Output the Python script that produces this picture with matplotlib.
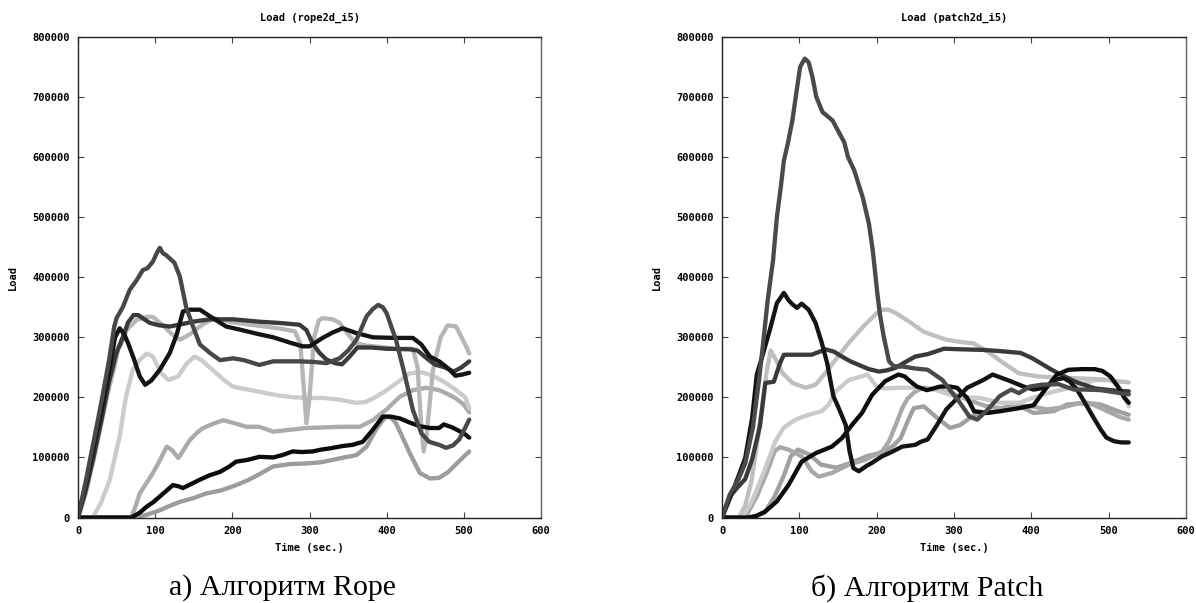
import matplotlib
matplotlib.use("Agg")
import matplotlib.pyplot as plt

# ---------------- data: Rope (left) ----------------
rope_titles = "Load (rope2d_i5)"
patch_titles = "Load (patch2d_i5)"
x_ticks = [0, 100, 200, 300, 400, 500, 600]
y_ticks = [0, 100000, 200000, 300000, 400000, 500000, 600000, 700000, 800000]

rope_a_t = [0, 10, 20, 30, 40, 48, 54, 60, 65, 73, 80, 87, 95, 106, 119, 128, 136, 145, 158, 171, 192, 209, 235, 253, 275, 291, 300, 317, 330, 343, 361, 382, 410, 434, 445, 456, 468, 480, 489, 498, 507]
rope_a_v = [0, 55000, 115000, 175000, 240000, 300000, 315000, 305000, 290000, 262000, 235000, 221000, 228000, 246000, 274000, 305000, 343000, 346000, 346000, 335000, 318000, 313000, 305000, 300000, 291000, 285000, 285000, 299000, 308000, 315000, 307000, 300000, 299000, 299000, 288000, 268000, 260000, 248000, 236000, 238000, 241000]

rope_b_t = [0, 10, 20, 30, 40, 47, 50, 58, 67, 76, 84, 90, 97, 102, 106, 110, 114, 120, 125, 132, 140, 149, 158, 171, 184, 201, 215, 235, 253, 270, 287, 305, 322, 339, 350, 361, 374, 382, 389, 395, 400, 412, 423, 434, 445, 455, 468, 477, 486, 494, 500, 507]
rope_b_v = [0, 60000, 125000, 190000, 260000, 318000, 332000, 350000, 379000, 395000, 412000, 415000, 426000, 440000, 449000, 440000, 437000, 430000, 424000, 401000, 351000, 318000, 288000, 274000, 262000, 265000, 262000, 254000, 260000, 260000, 260000, 259000, 257000, 265000, 278000, 296000, 335000, 347000, 354000, 350000, 340000, 296000, 240000, 179000, 140000, 126000, 121000, 116000, 120000, 130000, 145000, 163000]

rope_c_t = [0, 10, 20, 30, 40, 50, 58, 65, 72, 78, 86, 93, 105, 119, 135, 149, 171, 201, 235, 260, 287, 296, 304, 313, 322, 333, 342, 352, 362, 380, 400, 430, 440, 452, 462, 475, 487, 497, 507]
rope_c_v = [0, 45000, 100000, 160000, 225000, 275000, 300000, 325000, 337000, 337000, 330000, 324000, 320000, 318000, 322000, 326000, 330000, 330000, 326000, 324000, 321000, 312000, 290000, 274000, 263000, 257000, 255000, 268000, 283000, 283000, 281000, 280000, 278000, 265000, 255000, 250000, 243000, 250000, 260000]

rope_d_t = [0, 10, 20, 30, 40, 47, 52, 56, 63, 76, 89, 97, 110, 122, 132, 145, 160, 176, 200, 230, 260, 281, 288, 293, 296, 300, 306, 312, 317, 330, 339, 350, 360, 375, 391, 410, 434, 440, 445, 448, 452, 460, 470, 479, 490, 497, 503, 507]
rope_d_v = [0, 40000, 95000, 155000, 215000, 250000, 280000, 288000, 312000, 329000, 334000, 334000, 320000, 305000, 296000, 305000, 320000, 332000, 325000, 320000, 315000, 310000, 290000, 210000, 157000, 200000, 300000, 328000, 332000, 330000, 324000, 305000, 290000, 286000, 284000, 281000, 281000, 250000, 150000, 110000, 140000, 246000, 300000, 320000, 318000, 300000, 285000, 273000]

rope_e_t = [0, 12, 19, 30, 41, 54, 62, 71, 80, 89, 97, 108, 117, 130, 140, 151, 160, 175, 190, 201, 220, 240, 260, 280, 300, 318, 340, 360, 372, 385, 400, 415, 430, 445, 460, 474, 488, 502, 507]
rope_e_v = [0, 0, 0, 25000, 62000, 135000, 200000, 246000, 262000, 273000, 268000, 240000, 229000, 235000, 255000, 268000, 262000, 245000, 228000, 218000, 213000, 208000, 203000, 200000, 199000, 199000, 196000, 191000, 192000, 200000, 212000, 226000, 240000, 242000, 236000, 226000, 214000, 200000, 182000]

rope_f_t = [0, 69, 75, 80, 90, 97, 106, 115, 122, 130, 138, 145, 155, 162, 175, 188, 200, 218, 235, 253, 275, 296, 320, 339, 365, 382, 400, 417, 434, 451, 468, 480, 490, 500, 507]
rope_f_v = [0, 0, 20000, 40000, 60000, 74000, 95000, 118000, 112000, 99000, 115000, 129000, 142000, 149000, 156000, 162000, 158000, 151000, 151000, 143000, 146000, 149000, 150000, 151000, 151000, 162000, 180000, 201000, 212000, 216000, 212000, 205000, 198000, 188000, 175000]

rope_g_t = [0, 75, 90, 106, 120, 132, 149, 166, 185, 201, 220, 235, 253, 275, 296, 315, 330, 345, 361, 374, 386, 395, 400, 406, 412, 420, 430, 443, 456, 468, 480, 494, 507]
rope_g_v = [0, 0, 5000, 12000, 20000, 26000, 32000, 40000, 45000, 52000, 62000, 72000, 85000, 89000, 90000, 92000, 96000, 100000, 104000, 118000, 146000, 162000, 168000, 166000, 157000, 135000, 107000, 74000, 65000, 66000, 76000, 94000, 110000]

rope_h_t = [0, 69, 80, 89, 98, 106, 115, 123, 130, 136, 147, 158, 170, 184, 195, 205, 220, 235, 253, 265, 278, 290, 304, 315, 326, 343, 356, 369, 382, 395, 405, 417, 430, 443, 456, 468, 474, 485, 494, 500, 507]
rope_h_v = [0, 0, 8000, 18000, 26000, 35000, 45000, 54000, 52000, 49000, 56000, 63000, 70000, 76000, 84000, 93000, 96000, 101000, 100000, 104000, 110000, 109000, 110000, 113000, 115000, 119000, 121000, 126000, 146000, 168000, 168000, 165000, 158000, 152000, 149000, 149000, 155000, 150000, 144000, 140000, 133000]

# ---------------- data: Patch (right) ----------------
patch_a_t = [0, 10, 20, 30, 40, 48, 54, 59, 66, 71, 76, 80, 85, 91, 96, 101, 107, 112, 117, 122, 130, 143, 150, 158, 163, 171, 182, 190, 195, 201, 204, 209, 216, 222, 236, 250, 266, 285, 295, 305, 320, 330, 344, 359, 374, 384, 398, 413, 435, 455, 470, 490, 510, 526]
patch_a_v = [0, 38000, 60000, 90000, 150000, 230000, 300000, 361000, 428000, 500000, 550000, 594000, 622000, 661000, 706000, 750000, 764000, 758000, 733000, 700000, 675000, 661000, 644000, 625000, 600000, 578000, 533000, 489000, 444000, 372000, 340000, 302000, 260000, 252000, 251000, 248000, 246000, 229000, 212000, 196000, 168000, 163000, 180000, 202000, 213000, 207000, 218000, 221000, 222000, 213000, 213000, 212000, 208000, 205000]

patch_b_t = [0, 10, 20, 30, 39, 49, 56, 67, 75, 80, 95, 116, 134, 145, 155, 166, 177, 190, 203, 213, 224, 236, 250, 266, 287, 310, 338, 360, 386, 400, 412, 425, 438, 457, 482, 510, 526]
patch_b_v = [0, 35000, 50000, 64000, 97000, 152000, 224000, 226000, 257000, 271000, 271000, 271000, 280000, 276000, 268000, 260000, 254000, 247000, 243000, 245000, 249000, 258000, 268000, 272000, 281000, 280000, 279000, 277000, 274000, 266000, 257000, 247000, 238000, 226000, 215000, 211000, 210000]

patch_c_t = [0, 8, 17, 30, 39, 45, 52, 62, 71, 80, 86, 91, 97, 103, 112, 121, 129, 136, 144, 150, 160, 165, 170, 177, 187, 194, 207, 216, 233, 250, 257, 266, 278, 290, 300, 317, 338, 350, 373, 390, 403, 416, 433, 442, 450, 459, 467, 481, 490, 497, 507, 516, 526]
patch_c_v = [0, 25000, 54000, 99000, 166000, 238000, 268000, 313000, 357000, 374000, 362000, 355000, 349000, 356000, 346000, 324000, 291000, 257000, 202000, 185000, 154000, 110000, 82000, 77000, 86000, 91000, 102000, 107000, 118000, 121000, 126000, 130000, 154000, 180000, 193000, 216000, 229000, 238000, 227000, 218000, 213000, 216000, 230000, 232000, 226000, 213000, 196000, 165000, 146000, 133000, 127000, 125000, 125000]

patch_d_t = [0, 34, 45, 56, 71, 86, 103, 121, 142, 155, 168, 181, 194, 211, 228, 236, 245, 252, 265, 282, 295, 304, 317, 326, 343, 360, 384, 403, 416, 433, 448, 465, 482, 492, 502, 512, 520, 526]
patch_d_v = [0, 0, 3000, 10000, 27000, 54000, 93000, 107000, 118000, 132000, 154000, 174000, 204000, 227000, 238000, 235000, 225000, 218000, 212000, 218000, 218000, 216000, 199000, 177000, 174000, 177000, 182000, 187000, 210000, 238000, 246000, 247000, 247000, 244000, 235000, 218000, 200000, 191000]

patch_e_t = [0, 22, 30, 38, 45, 52, 58, 63, 70, 78, 91, 108, 121, 134, 147, 164, 185, 200, 207, 215, 224, 241, 261, 290, 310, 325, 344, 364, 384, 408, 430, 457, 490, 510, 526]
patch_e_v = [0, 0, 20000, 60000, 120000, 185000, 245000, 278000, 262000, 241000, 224000, 216000, 221000, 241000, 263000, 291000, 321000, 340000, 346000, 346000, 341000, 327000, 309000, 296000, 292000, 290000, 276000, 257000, 240000, 235000, 233000, 232000, 230000, 227000, 225000]

patch_f_t = [0, 25, 35, 43, 56, 69, 80, 95, 112, 129, 138, 147, 164, 181, 188, 194, 200, 210, 230, 250, 275, 300, 320, 334, 359, 384, 408, 430, 457, 482, 502, 510, 517, 526]
patch_f_v = [0, 0, 18000, 40000, 82000, 127000, 150000, 163000, 171000, 177000, 188000, 210000, 229000, 235000, 238000, 228000, 218000, 215000, 216000, 216000, 213000, 202000, 200000, 199000, 191000, 191000, 202000, 210000, 218000, 229000, 229000, 222000, 210000, 185000]

patch_g_t = [0, 30, 45, 58, 68, 75, 86, 103, 116, 125, 142, 164, 185, 207, 216, 225, 233, 240, 250, 261, 280, 300, 320, 340, 360, 380, 400, 420, 440, 460, 480, 500, 515, 526]
patch_g_v = [0, 0, 35000, 75000, 110000, 117000, 113000, 102000, 77000, 68000, 74000, 88000, 96000, 110000, 127000, 155000, 182000, 198000, 210000, 216000, 212000, 205000, 195000, 186000, 182000, 187000, 185000, 180000, 183000, 190000, 188000, 176000, 167000, 163000]

patch_h_t = [0, 40, 55, 68, 80, 89, 98, 113, 128, 148, 167, 187, 207, 221, 231, 240, 248, 261, 278, 295, 308, 326, 355, 381, 403, 429, 446, 472, 490, 512, 526]
patch_h_v = [0, 0, 8000, 35000, 70000, 102000, 113000, 105000, 88000, 83000, 91000, 102000, 108000, 119000, 132000, 160000, 182000, 185000, 166000, 149000, 154000, 171000, 177000, 188000, 174000, 177000, 188000, 191000, 188000, 177000, 171000]

rope_series = [
    (rope_g_t, rope_g_v, "#9c9c9c"),
    (rope_f_t, rope_f_v, "#ababab"),
    (rope_e_t, rope_e_v, "#cbcbcb"),
    (rope_d_t, rope_d_v, "#b6b6b6"),
    (rope_h_t, rope_h_v, "#0c0c0c"),
    (rope_c_t, rope_c_v, "#3a3a3a"),
    (rope_a_t, rope_a_v, "#141414"),
    (rope_b_t, rope_b_v, "#484848"),
]
patch_series = [
    (patch_h_t, patch_h_v, "#a0a0a0"),
    (patch_g_t, patch_g_v, "#a8a8a8"),
    (patch_f_t, patch_f_v, "#cacaca"),
    (patch_e_t, patch_e_v, "#bfbfbf"),
    (patch_b_t, patch_b_v, "#3a3a3a"),
    (patch_d_t, patch_d_v, "#0c0c0c"),
    (patch_c_t, patch_c_v, "#141414"),
    (patch_a_t, patch_a_v, "#4a4a4a"),
]

MONO = dict(family="DejaVu Sans Mono", weight="bold", size=7.5)

fig = plt.figure(figsize=(11.96, 6.03), dpi=100)
W, H = 1196.0, 603.0
bottom = (H - 517.5) / H
height = 480.5 / H


def draw(ax, series, title, caption, cap_x):
    for t, v, c in series:
        ax.plot(t, v, color=c, lw=3.1, solid_joinstyle="round", solid_capstyle="round")
    ax.set_xlim(0, 600)
    ax.set_ylim(0, 800000)
    ax.set_xticks(x_ticks)
    ax.set_yticks(y_ticks)
    ax.set_xticklabels([str(x) for x in x_ticks], fontdict=MONO)
    ax.set_yticklabels([str(y) for y in y_ticks], fontdict=MONO)
    ax.tick_params(direction="in", length=4, width=0.8, top=True, right=True,
                   color="#444444")
    ax.tick_params(axis="x", pad=6)
    ax.tick_params(axis="y", pad=6)
    for s in ax.spines.values():
        s.set_linewidth(1.0)
        s.set_color("#222222")
    ax.spines["right"].set_color("#666666")
    ax.text(0.5, 1.039, title, transform=ax.transAxes, ha="center", va="center", **MONO)
    ax.text(0.5, -0.064, "Time (sec.)", transform=ax.transAxes, ha="center", va="center", **MONO)
    ax.text(-0.140, 0.5, "Load", transform=ax.transAxes, rotation=90,
            ha="center", va="center", **MONO)
    fig.text(cap_x / W, 1 - 588 / H, caption, ha="center", va="center",
             family="Liberation Serif", size=21.5)


ax1 = fig.add_axes([78 / W, bottom, 463 / W, height])
draw(ax1, rope_series, rope_titles, "а) Алгоритм Rope", 282)
ax2 = fig.add_axes([722 / W, bottom, 464 / W, height])
draw(ax2, patch_series, patch_titles, "б) Алгоритм Patch", 927)

fig.savefig("out.png", dpi=100)
